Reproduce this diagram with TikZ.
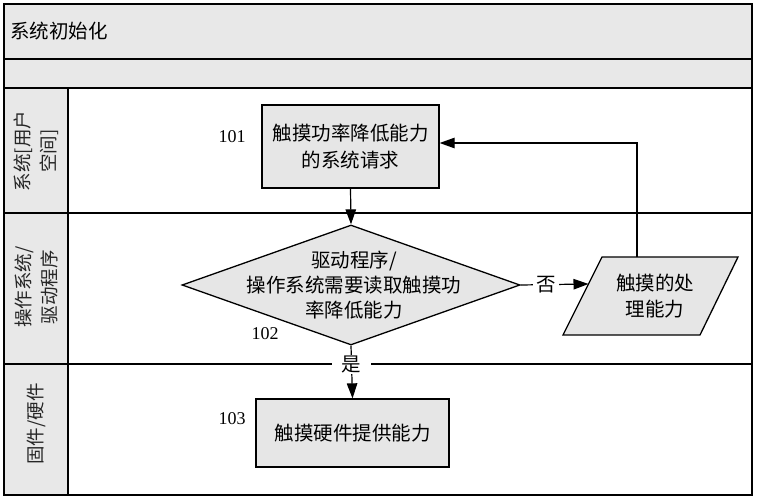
\documentclass[tikz,border=0pt]{standalone}
\usepackage{fontspec}
\setmainfont{Liberation Serif}
\newfontfamily\cjk{Noto Sans CJK SC}
\usetikzlibrary{shapes.geometric,arrows.meta,calc}
\definecolor{bandgray}{HTML}{E8E8E8}
\definecolor{boxgray}{HTML}{E6E6E6}
\begin{document}
\begin{tikzpicture}[x=1pt,y=-1pt,
  frameline/.style={line width=1.4pt, draw=black},
  cjktext/.style={font=\cjk\fontsize{19.5}{26}\selectfont, align=center, inner sep=0pt},
  lanetext/.style={font=\cjk\fontsize{18.5}{26}\selectfont, align=center, inner sep=0pt, rotate=90, text=black!85},
  numtext/.style={font=\fontsize{18}{20}\selectfont, inner sep=0pt},
  procbox/.style={draw, line width=1.3pt, fill=boxgray, inner sep=0pt, font=\cjk\fontsize{19.5}{27}\selectfont, align=center},
  decbox/.style={diamond, draw, line width=1.3pt, fill=boxgray, inner sep=0pt},
  ioshape/.style={draw, line width=1.3pt, fill=boxgray, line join=miter},
  conn/.style={line width=1.2pt, -{Triangle[length=15pt,width=10.5pt]}},
  lbl/.style={fill=white, font=\cjk\fontsize{19.5}{22}\selectfont, inner ysep=1pt}
]
\useasboundingbox (0,0) rectangle (757,500);
% bands and frame
\fill[bandgray] (4,4) rectangle (752,88);
\fill[bandgray] (4,88) rectangle (68,495);
\draw[frameline] (4,4) rectangle (752,495);
\draw[frameline] (4,59) -- (752,59);
\draw[frameline] (4,88) -- (752,88);
\draw[frameline] (4,213) -- (752,213);
\draw[frameline] (4,364) -- (752,364);
\draw[frameline] (68,88) -- (68,495);
% titles
\node[cjktext, anchor=west] (title) at (10,31) {系统初始化};
\node[lanetext] (lane1) at (36,151) {系统[用户\\空间]};
\node[lanetext] (lane2) at (36,287) {操作系统/\\驱动程序};
\node[lanetext] (lane3) at (36,424) {固件/硬件};
% shapes
\node[procbox, minimum width=177pt, minimum height=83pt] (box101) at (350.5,146.5) {触摸功率降低能力\\的系统请求};
\node[decbox, minimum width=338pt, minimum height=120pt] (dia) at (351,285) {};
\node[cjktext, font=\cjk\fontsize{19.5}{25}\selectfont] (diatext) at (354,285) {驱动程序/\\操作系统需要读取触摸功\\率降低能力};
% parallelogram
\coordinate (pbl) at (563,335);
\coordinate (ptl) at (602,257);
\coordinate (ptr) at (738,257);
\coordinate (pbr) at (700,335);
\draw[ioshape] (pbl) -- (ptl) -- (ptr) -- (pbr) -- cycle;
\node[cjktext] (paratext) at (655,296) {触摸的处\\理能力};
\node[procbox, minimum width=193pt, minimum height=68pt] (box103) at (352.5,433) {触摸硬件提供能力};
% numbers
\node[numtext] (n101) at (232,137) {101};
\node[numtext] (n102) at (265,334) {102};
\node[numtext] (n103) at (232,419) {103};
% connectors
\coordinate (pin) at ($(pbl)!0.654!(ptl)$);
\coordinate (ptop) at ($(ptl)!0.257!(ptr)$);
\draw[conn] (box101.south) -- (dia.north);
\draw[conn] (dia.east) -- node[lbl, pos=0.37, inner xsep=3pt] (no) {否} (pin);
\draw[conn] (ptop) |- ([yshift=3.5pt]box101.east);
\draw[conn] (dia.south) -- node[lbl, pos=0.36, inner xsep=10pt] (yes) {是} (box103.north);
\end{tikzpicture}
\end{document}
